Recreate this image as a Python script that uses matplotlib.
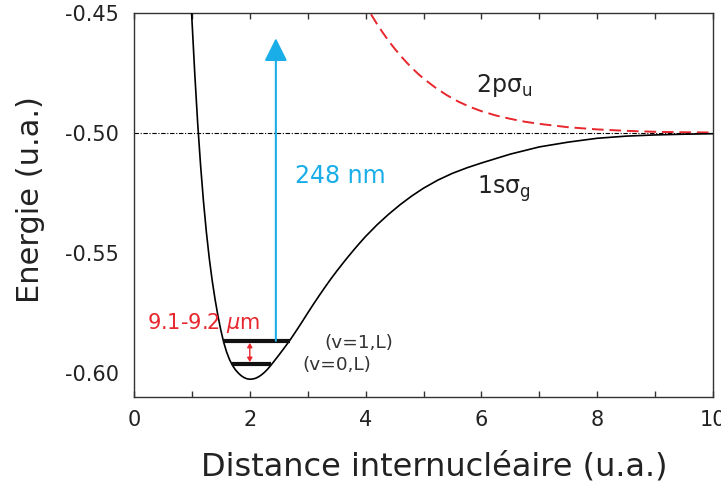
import matplotlib
matplotlib.use("Agg")
import matplotlib.pyplot as plt
from matplotlib.patches import FancyArrowPatch

plt.rcParams['font.family'] = ['DejaVu Sans']
plt.rcParams['mathtext.default'] = 'regular'
plt.rcParams['axes.unicode_minus'] = False

# 1s sigma_g potential curve (R in a.u., E in a.u.)
R_g = [0.90, 0.95, 1.00, 1.05, 1.10, 1.15, 1.20, 1.25, 1.30, 1.35, 1.40, 1.45,
       1.50, 1.55, 1.60, 1.65, 1.70, 1.75, 1.80, 1.85, 1.90, 1.95, 2.00, 2.05,
       2.10, 2.15, 2.20, 2.25, 2.30, 2.35, 2.40, 2.50, 2.60, 2.70, 2.80, 2.90,
       3.00, 3.10, 3.20, 3.30, 3.40, 3.50, 3.60, 3.70, 3.80, 3.90, 4.00, 4.20,
       4.40, 4.60, 4.80, 5.00, 5.25, 5.50, 5.75, 6.00, 6.50, 7.00, 7.50, 8.00,
       8.50, 9.00, 9.50, 10.0]
E_g = [-0.3990, -0.4270, -0.4525, -0.4755, -0.4960, -0.5135, -0.5285, -0.5413,
       -0.5522, -0.5614, -0.5693, -0.5762, -0.5822, -0.5873, -0.5913, -0.5944,
       -0.5968, -0.5986, -0.6000, -0.6011, -0.6019, -0.6024, -0.6026, -0.6025,
       -0.6022, -0.6016, -0.6008, -0.5998, -0.5986, -0.5972, -0.5957, -0.5926,
       -0.5894, -0.5861, -0.5825, -0.5788, -0.5750, -0.5713, -0.5677, -0.5642,
       -0.5608, -0.5576, -0.5545, -0.5515, -0.5486, -0.5458, -0.5431, -0.5382,
       -0.5338, -0.5298, -0.5262, -0.5230, -0.5196, -0.5168, -0.5145, -0.5125,
       -0.5088, -0.5058, -0.5038, -0.5022, -0.5013, -0.5008, -0.5005, -0.5003]

# 2p sigma_u repulsive curve
R_u = [3.90, 4.00, 4.10, 4.20, 4.30, 4.40, 4.50, 4.60, 4.70, 4.80, 4.90, 5.00,
       5.20, 5.40, 5.60, 5.80, 6.00, 6.25, 6.50, 6.75, 7.00, 7.50, 8.00, 8.50,
       9.00, 9.50, 10.0]
E_u = [-0.4420, -0.4467, -0.4508, -0.4547, -0.4583, -0.4617, -0.4648, -0.4677,
       -0.4704, -0.4729, -0.4752, -0.4773, -0.4810, -0.4842, -0.4869, -0.4891,
       -0.4909, -0.4927, -0.4941, -0.4953, -0.4962, -0.4976, -0.4985, -0.4991,
       -0.4995, -0.4997, -0.4998]

# Vibrational levels: (R_left, R_right, E)
lev_v0 = (1.69, 2.36, -0.5963)
lev_v1 = (1.54, 2.70, -0.5866)

asymptote = -0.50
arrow_R = 2.45
arrow_top = -0.4605
ir_R = 2.0

xticks_major = [0, 2, 4, 6, 8, 10]
xticks_minor = [1, 3, 5, 7, 9]
yticks = [-0.60, -0.55, -0.50, -0.45]
ytick_labels = ['-0.60', '-0.55', '-0.50', '-0.45']

fig = plt.figure(figsize=(7.21, 4.82), dpi=100)
ax = fig.add_axes([134/721, 85/482, (713-134)/721, (397-13)/482])

ax.axhline(asymptote, color='black', lw=0.8, ls=(0, (4, 1.5, 1, 1.5)), zorder=1)
ax.plot(R_u, E_u, color='#e8262d', lw=1.4, ls=(0, (6, 3)), zorder=2)
ax.plot(R_g, E_g, color='black', lw=1.2, zorder=3)

for (r0, r1, e) in (lev_v0, lev_v1):
    ax.plot([r0, r1], [e, e], color='#111111', lw=3.0, solid_capstyle='butt', zorder=4)

# UV arrow
uv = FancyArrowPatch((arrow_R, lev_v1[2]), (arrow_R, arrow_top),
                     arrowstyle='-|>,head_length=14,head_width=7',
                     mutation_scale=1, color='#19aee8', lw=1.5,
                     shrinkA=0, shrinkB=0, zorder=5)
ax.add_patch(uv)

# IR double arrow
ir = FancyArrowPatch((ir_R, lev_v0[2]), (ir_R, lev_v1[2]),
                     arrowstyle='<|-|>,head_length=2.5,head_width=1.5',
                     mutation_scale=1, color='#e8262d', lw=1.0,
                     shrinkA=1.5, shrinkB=1.5, zorder=5)
ax.add_patch(ir)

ax.text(2.78, -0.5207, '248 nm', color='#19aee8', fontsize=17, va='baseline', ha='left')
ax.text(0.22, -0.5818, r'9.1-9.2 $\mathit{\mu}$m', color='#e8262d', fontsize=15,
        va='baseline', ha='left')
ax.text(5.91, -0.4828, r'2p$\sigma_u$', color='#222222', fontsize=17, va='baseline', ha='left')
ax.text(5.92, -0.5252, r'1s$\sigma_g$', color='#222222', fontsize=17, va='baseline', ha='left')
ax.text(3.28, -0.5876, '(v=1,L)', color='#333333', fontsize=13.3, va='center', ha='left')
ax.text(2.90, -0.5967, '(v=0,L)', color='#333333', fontsize=13.3, va='center', ha='left')

ax.set_xlim(0, 10)
ax.set_ylim(-0.61, -0.45)
ax.set_xticks(xticks_major)
ax.set_xticks(xticks_minor, minor=True)
ax.set_yticks(yticks)
ax.set_yticklabels(ytick_labels)

ax.tick_params(axis='x', which='both', direction='in', top=True, bottom=True,
               length=4, width=1, color='#333333', labelsize=15, pad=9,
               labelcolor='#222222')
ax.tick_params(axis='y', which='both', length=0, labelsize=15, pad=11,
               labelcolor='#222222')
for sp in ax.spines.values():
    sp.set_color('#333333')
    sp.set_linewidth(1.0)

fig.text(434/721, 6/482, 'Distance internucléaire (u.a.)', fontsize=23,
         ha='center', va='baseline', color='#222222')
fig.text(31/721, (482-199.5)/482, 'Energie (u.a.)', fontsize=22, rotation=90,
         ha='center', va='center', color='#222222')

fig.savefig('out.png', dpi=100)
